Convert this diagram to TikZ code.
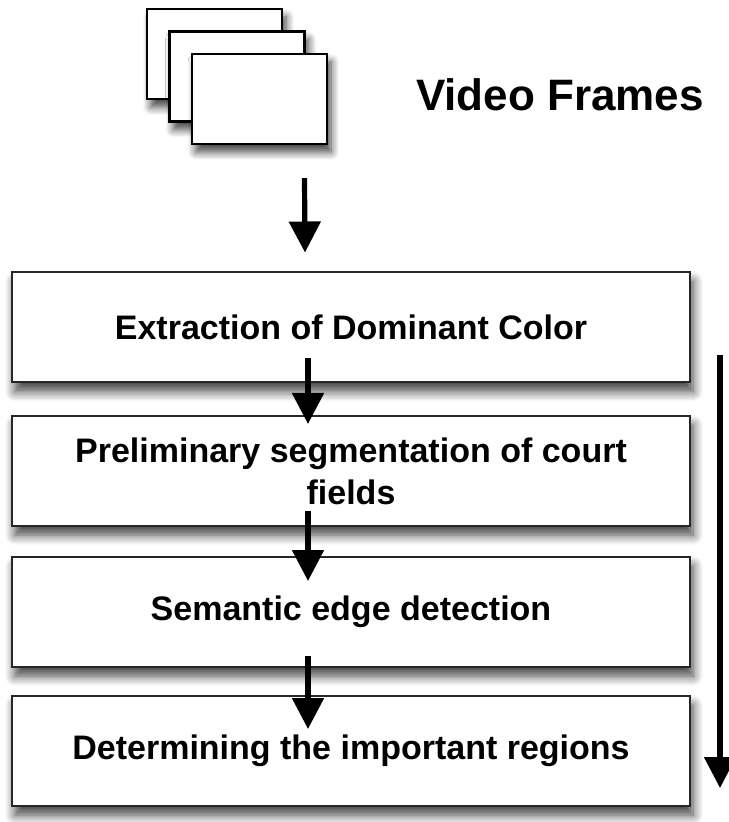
\documentclass[tikz,border=0pt]{standalone}
\usepackage{fontspec}
\setmainfont{Liberation Sans}
\usetikzlibrary{arrows.meta,calc,shadows.blur}

\tikzset{
  stagebox/.style={draw=black!85, line width=1pt, fill=white,
    minimum width=339pt, minimum height=55pt, align=center,
    font=\bfseries\fontsize{17}{21}\selectfont,
    blur shadow={shadow xshift=1.5pt, shadow yshift=-4.5pt, shadow blur radius=5pt, shadow blur steps=8, shadow opacity=75}},
  framecard/.style={draw=black, line width=1.2pt, fill=white,
    minimum width=67.5pt, minimum height=45pt,
    blur shadow={shadow xshift=2pt, shadow yshift=-4pt, shadow blur radius=4pt, shadow blur steps=8, shadow opacity=75}},
  flow/.style={line width=2.6pt, -{Triangle[width=15.5pt,length=15.5pt]}},
}

\begin{document}
\begin{tikzpicture}[x=0.5pt,y=-0.5pt]
    \useasboundingbox (0,0) rectangle (728,822);
    % Stack of video frames
    \node[framecard] (fr1) at (214.5,54) {};
    \node[framecard] (fr2) at (237,76.5) {};
    \node[framecard] (fr3) at (259.5,99) {};
    \node[font=\bfseries\fontsize{22}{26}\selectfont] (title) at (560,95) {Video Frames};
    % Processing stages
    \node[stagebox] (b1) at (351,327.5) {Extraction of Dominant Color};
    \node[stagebox] (b2) at (351,471) {Preliminary segmentation of court\\fields};
    \node[stagebox] (b3) at (351,612) {Semantic edge detection};
    \node[stagebox] (b4) at (351,751) {Determining the important regions};
    % Arrows between stages
    \draw[flow] ([shift={(45,33)}]fr3.south) -- ([shift={(-46,-19)}]b1.north);
    \draw[flow] ([shift={(-43,-25)}]b1.south) -- ([shift={(-43,9)}]b2.north);
    \draw[flow] ([shift={(-43,-16)}]b2.south) -- ([shift={(-43,25)}]b3.north);
    \draw[flow] ([shift={(-43,-12)}]b3.south) -- ([shift={(-43,34)}]b4.north);
    % Overall direction
    \coordinate (top) at ([shift={(29,27.5)}]b1.east);
    \coordinate (bot) at ([shift={(29,37)}]b4.east);
    \draw[flow] (top) -- (bot);
\end{tikzpicture}
\end{document}
